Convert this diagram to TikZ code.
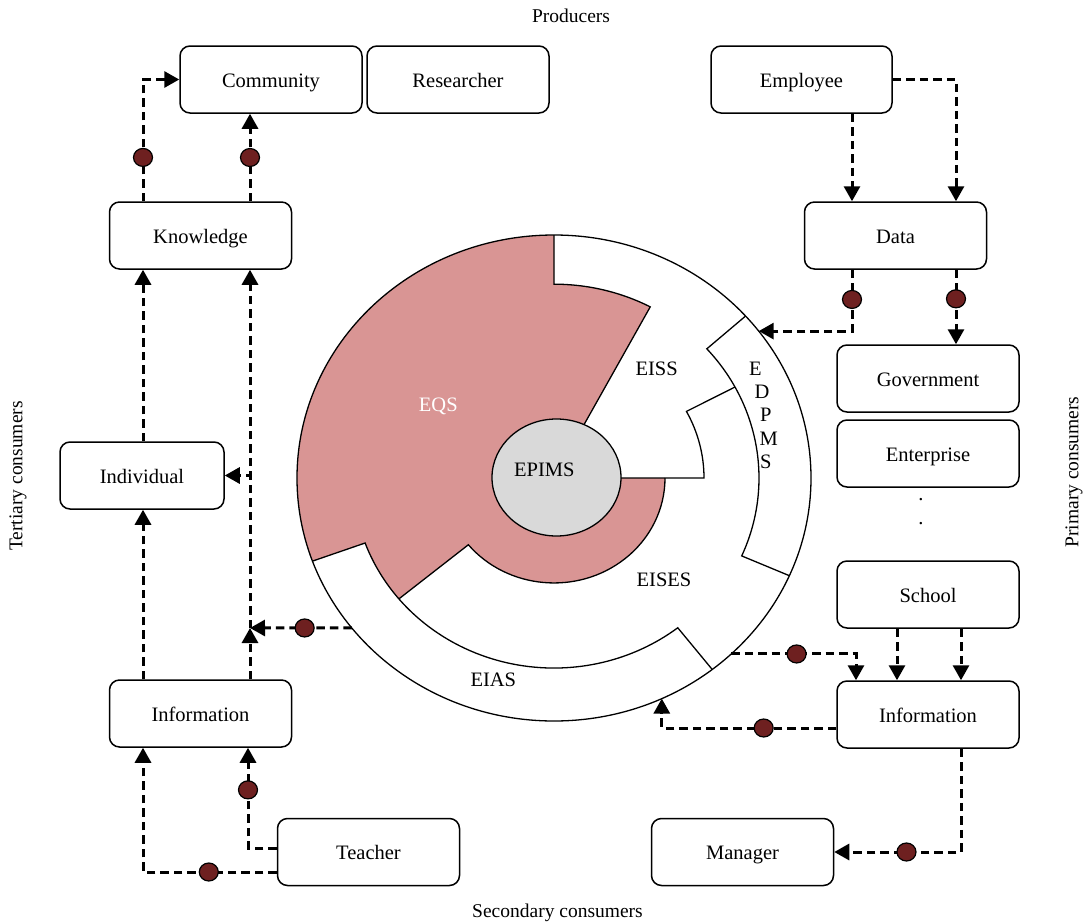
\documentclass[tikz,border=0pt]{standalone}
\usepackage{fontspec}
\setmainfont{Liberation Serif}
\usetikzlibrary{arrows.meta,shapes.geometric,calc}
\definecolor{eqspink}{HTML}{D99594}
\definecolor{epimsgray}{HTML}{D9D9D9}
\definecolor{dotred}{RGB}{110,32,32}

\begin{document}
\begin{tikzpicture}[x=1pt,y=1pt,
  box/.style={draw, line width=1.5pt, rounded corners=10pt, minimum width=182pt,
    minimum height=67pt, inner sep=0pt, text height=18pt, text depth=3pt,
    font=\fontsize{20.5}{24}\selectfont, fill=white},
  flow/.style={line width=3pt, dash pattern=on 8.5pt off 5pt,
    -{Triangle[length=15pt,width=16pt]}},
  dot/.style={solid, ellipse, draw, line width=1.2pt, fill=dotred,
    minimum width=19pt, minimum height=18pt, inner sep=0pt},
  ring/.style={line width=1.3pt},
  caption/.style={font=\fontsize{19.5}{23}\selectfont},
  seg/.style={font=\fontsize{20.5}{24}\selectfont, inner sep=0pt}]

\useasboundingbox (0,0) rectangle (1088,-924);

% ---- the EPIMS wheel ----
\begin{scope}[shift={(554,-478)}, yscale=0.9455]
  % EQS sector
  \fill[eqspink] (0,0) -- (62:205) arc[start angle=62, end angle=90, radius=205]
    -- (90:257) arc[start angle=90, end angle=200, radius=257]
    -- (200:201) arc[start angle=200, end angle=219.5, radius=201]
    -- (219.5:111) arc[start angle=219.5, end angle=360, radius=111] -- cycle;
  % outlines of the segments
  \draw[ring] (0,0) circle[radius=257];
  \draw[ring] (0,0) -- (62:205) arc[start angle=62, end angle=90, radius=205] -- (90:257);
  \draw[ring] (41.8:257) -- (41.8:205) arc[start angle=41.8, end angle=-23.7, radius=205] -- (-23.7:257);
  \draw[ring] (28:205) -- (28:150) arc[start angle=28, end angle=0, radius=150] -- (0,0);
  \draw[ring] (200:257) -- (200:201) arc[start angle=200, end angle=308, radius=201] -- (308:257);
  \draw[ring] (219.5:201) -- (219.5:111) arc[start angle=219.5, end angle=360, radius=111];
  % points on the rim where connectors meet the wheel
  \coordinate (P1) at (218.1:257);
  \coordinate (P2) at (37.2:257);
  \coordinate (P3) at (-46.4:257);
  \coordinate (P4) at (-65.2:257);
\end{scope}

\node[ellipse, draw, ring, fill=epimsgray, minimum width=129pt, minimum height=117pt,
  inner sep=0pt] (epims) at (556.5,-477.5) {};
\node[seg] (epimslabel) at (544.3,-470) {EPIMS};
\node[seg, text=white] (eqs) at (438.3,-406.7) {EQS};
\node[seg] (eiss) at (656.7,-369.3) {EISS};
\node[seg] (eises) at (664,-580) {EISES};
\node[seg] (eias) at (493.3,-680) {EIAS};
\node[seg] (edE) at (755.3,-368.3) {E};
\node[seg] (edD) at (762,-391.7) {D};
\node[seg] (edP) at (765.7,-415) {P};
\node[seg] (edM) at (768.7,-438.3) {M};
\node[seg] (edS) at (765.7,-461.7) {S};

% ---- boxes ----
\node[box] (community) at (271,-79.5) {Community};
\node[box] (researcher) at (458,-79.5) {Researcher};
\node[box, minimum width=181pt] (employee) at (801.5,-79.5) {Employee};
\node[box] (knowledge) at (200.5,-235.5) {Knowledge};
\node[box] (data) at (895.5,-235.5) {Data};
\node[box] (government) at (928,-378.5) {Government};
\node[box] (enterprise) at (928,-453.5) {Enterprise};
\node[seg] (more1) at (921,-500) {.};
\node[seg] (more2) at (921,-524) {.};
\node[box] (school) at (928,-594.5) {School};
\node[box, minimum width=164pt] (individual) at (142,-475.5) {Individual};
\node[box] (infoL) at (200.5,-713.5) {Information};
\node[box] (teacher) at (368.5,-852) {Teacher};
\node[box] (infoR) at (928,-714.5) {Information};
\node[box] (manager) at (742.5,-852) {Manager};

% ---- captions ----
\node[caption] (producers) at (571,-16) {Producers};
\node[caption] (secondary) at (557.5,-913) {Secondary consumers};
\node[caption, rotate=90] (tertiary) at (18,-476) {Tertiary consumers};
\node[caption, rotate=90] (primary) at (1074,-472) {Primary consumers};

% ---- helper columns and rows ----
\coordinate (xa) at (143,0);
\coordinate (xb) at (250,0);
\coordinate (xb2) at (248,0);
\coordinate (xc) at (852,0);
\coordinate (xd) at (956,0);
\coordinate (xe) at (897,0);
\coordinate (xf) at (961,0);
\coordinate (xg) at (856,0);
\coordinate (yT1) at (0,-848);
\coordinate (yT2) at (0,-872);
\coordinate (yR) at (0,-728);
\coordinate (J1) at (250,-628);

% ---- connectors ----
\draw[flow] (knowledge.north -| xa) |- node[dot,pos=0.18]{} (community.west);
\draw[flow] (knowledge.north -| xb) -- node[dot,pos=0.5]{} (community.south -| xb);
\draw[flow] (individual.north -| xa) -- (knowledge.south -| xa);
\draw[flow] (infoL.north -| xa) -- (individual.south -| xa);
\draw[flow] (infoL.north -| xb) -- (J1);
\draw[flow] (J1) -- (knowledge.south -| xb);
\draw[flow] (J1) |- (individual.east);
\draw[flow] (P1) -- node[dot,pos=0.463]{} (J1);
\draw[flow] (teacher.west |- yT1) -| node[dot,pos=0.79]{} (infoL.south -| xb2);
\draw[flow] (teacher.west |- yT2) -| node[dot,pos=0.254]{} (infoL.south -| xa);

\draw[flow] (employee.south -| xc) -- (data.north -| xc);
\draw[flow] (employee.east) -| (data.north -| xd);
\draw[flow] (data.south -| xc) |- node[dot,pos=0.242]{} (P2);
\draw[flow] (data.south -| xd) -- node[dot,pos=0.39]{} (government.north -| xd);
\draw[flow] (school.south -| xe) -- (infoR.north -| xe);
\draw[flow] (school.south -| xf) -- (infoR.north -| xf);
\draw[flow] (P3) -| node[dot,pos=0.262]{} (infoR.north -| xg);
\draw[flow] (infoR.west |- yR) -| node[dot,pos=0.208]{} (P4);
\draw[flow] (infoR.south -| xf) |- node[dot,pos=0.715]{} (manager.east);

\end{tikzpicture}
\end{document}
